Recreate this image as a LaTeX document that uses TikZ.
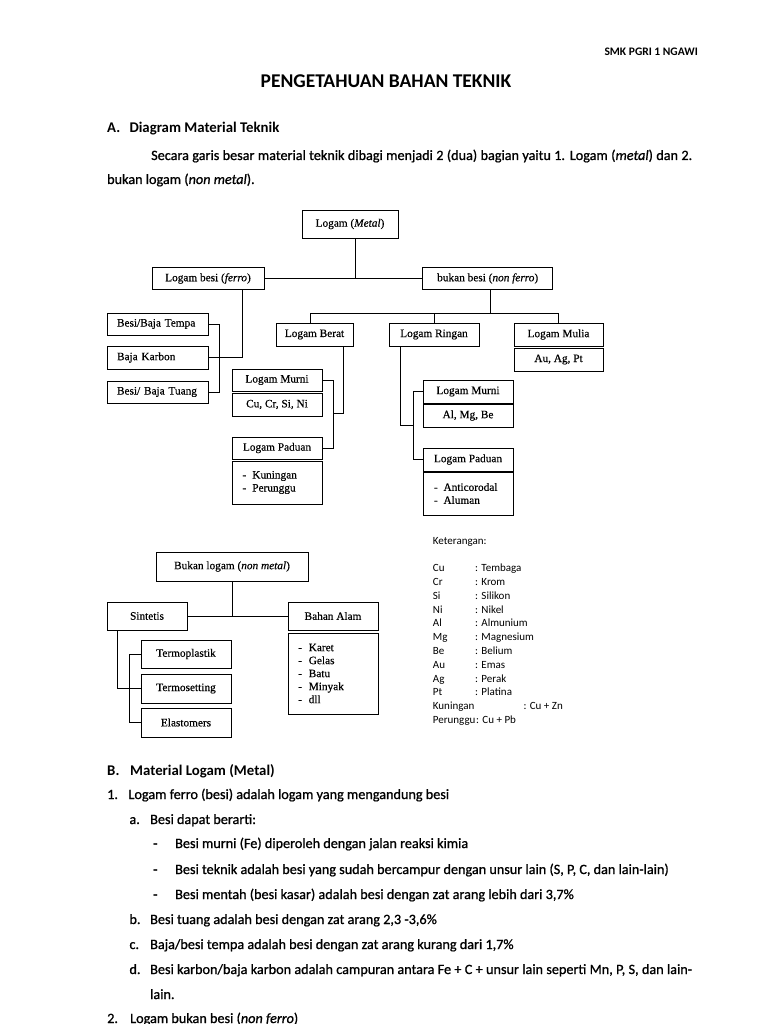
\documentclass[tikz,border=0pt]{standalone}
\usepackage{fontspec}
\setmainfont{Carlito}
\newfontfamily\bodyfont{Carlito}[FakeBold=0.9]
\newfontfamily\tnr{Liberation Serif}[FakeBold=0.4]
\begin{document}
\begin{tikzpicture}[x=1pt,y=-1pt,
  box/.style={draw, line width=0.8pt, inner sep=0pt, align=center,
    font=\tnr\fontsize{11.3}{13}\selectfont},
  lbox/.style={box, align=left, inner ysep=0pt},
  conn/.style={line width=0.8pt},
  body/.style={anchor=base west, inner sep=0pt, font=\bodyfont\fontsize{14.2}{17}\selectfont},
  headtxt/.style={anchor=base west, inner sep=0pt, font=\bfseries\fontsize{14.8}{17}\selectfont},
  legend/.style={anchor=base west, inner sep=0pt, font=\fontsize{11}{13.8}\selectfont}
]
\fill[white] (0,0) rectangle (768,1024);
\useasboundingbox (0,0) rectangle (768,1024);

% ---------- header and text ----------
\node[anchor=base east, inner sep=0pt, font=\bfseries\fontsize{11.5}{13}\selectfont] (hdr) at (698,56) {SMK PGRI 1 NGAWI};
\node[anchor=base, inner sep=0pt, font=\bfseries\fontsize{19.5}{21}\selectfont] (title) at (386,88) {PENGETAHUAN BAHAN TEKNIK};
\node[headtxt] (hA) at (107,133) {A.};
\node[headtxt] (hAt) at (129.3,133) {Diagram Material Teknik};
\node[body] (p1) at (151,160) {\makebox[541pt][s]{Secara garis besar material teknik dibagi menjadi 2 (dua) bagian yaitu 1. Logam (\textit{metal}) dan 2.}};
\node[body] (p2) at (107,184) {bukan logam (\textit{non metal}).};

% ---------- metal diagram ----------
\node[box, minimum width=96, minimum height=28] (metal) at (350,224) {Logam (\textit{Metal})};
\node[box, minimum width=112, minimum height=22] (ferro) at (208,278.5) {Logam besi (\textit{ferro})};
\node[box, minimum width=130, minimum height=22] (nonferro) at (487.7,278.5) {bukan besi (\textit{non ferro})};

\node[lbox, text width=81, inner xsep=10, minimum height=22] (tempa) at (157.5,324) {Besi/Baja Tempa};
\node[lbox, text width=81, inner xsep=10, minimum height=23] (karbon) at (157.5,357.5) {Baja Karbon};
\node[lbox, text width=81, inner xsep=10, minimum height=22] (tuang) at (157.5,392) {Besi/ Baja Tuang};

\node[box, minimum width=77, minimum height=23] (berat) at (314.5,334.5) {Logam Berat};
\node[box, minimum width=90, minimum height=23] (ringan) at (434,334.5) {Logam Ringan};
\node[box, minimum width=89, minimum height=23] (mulia) at (558.5,334.5) {Logam Mulia};
\node[box, minimum width=89, minimum height=23] (auagpt) at (558.5,359.5) {Au, Ag, Pt};

\node[box, minimum width=90, minimum height=22] (murni1) at (277,380) {Logam Murni};
\node[box, minimum width=90, minimum height=23] (cucr) at (277,404.5) {Cu, Cr, Si, Ni};
\node[box, minimum width=90, minimum height=22] (paduan1) at (277,448) {Logam Paduan};
\node[lbox, text width=69, inner xsep=10.5, minimum height=43] (list1) at (277,482.5)
  {\makebox[9.8pt][l]{-}Kuningan\\\makebox[9.8pt][l]{-}Perunggu\\[3pt]};

\node[box, minimum width=90, minimum height=23] (murni2) at (468,391.5) {Logam Murni};
\node[box, minimum width=90, minimum height=23] (almgbe) at (468,415.5) {Al, Mg, Be};
\node[box, minimum width=90, minimum height=23] (paduan2) at (468,459.5) {Logam Paduan};
\node[lbox, text width=68, inner xsep=11, minimum height=43] (list2) at (468,493.5)
  {\makebox[9.5pt][l]{-}Anticorodal\\\makebox[9.5pt][l]{-}Aluman\\[3pt]};

% connectors (metal)
\coordinate (j1) at (355,278.5);
\draw[conn] (metal.south -| j1) -- (j1);
\draw[conn] (ferro.east) -- (nonferro.west);
\coordinate (j2) at (242,357.5);
\draw[conn] (ferro.south -| j2) |- (karbon.east);
\coordinate (j3) at (219,392);
\draw[conn] (tempa.east) -| (j3) -- (tuang.east);

\coordinate (j4) at (490.7,313.3);
\coordinate (b1) at (310,313.3);
\coordinate (b2) at (558.5,313.3);
\draw[conn] (nonferro.south -| j4) -- (j4);
\draw[conn] (b1) -- (b2);
\draw[conn] (b1) -- (berat.north -| b1);
\draw[conn] (ringan.north |- b1) -- (ringan.north);
\draw[conn] (b2) -- (mulia.north);

\coordinate (k1) at (343,413);
\coordinate (k2) at (333,413);
\draw[conn] (berat.south -| k1) -- (k1) -- (k2);
\draw[conn] (murni1.east) -| (paduan1.east -| k2) -- (paduan1.east);

\coordinate (r1) at (400,425.7);
\coordinate (r2) at (413,425.7);
\draw[conn] (ringan.south -| r1) -- (r1) -- (r2);
\draw[conn] (murni2.west) -| (paduan2.west -| r2) -- (paduan2.west);

% ---------- non metal diagram ----------
\node[box, minimum width=152, minimum height=29] (bukanlogam) at (232,566.5) {Bukan logam (\textit{non metal})};
\node[box, minimum width=80, minimum height=28] (sintetis) at (147,616) {Sintetis};
\node[box, minimum width=90, minimum height=28] (alam) at (333,616) {Bahan Alam};
\node[lbox, text width=69.5, inner xsep=10.3, minimum height=81] (alamlist) at (333,673.5)
  {\makebox[10.5pt][l]{-}Karet\\\makebox[10.5pt][l]{-}Gelas\\\makebox[10.5pt][l]{-}Batu\\\makebox[10.5pt][l]{-}Minyak\\\makebox[10.5pt][l]{-}dll\\[4pt]};
\node[box, minimum width=90, minimum height=28] (termoplastik) at (186,654) {Termoplastik};
\node[box, minimum width=90, minimum height=29] (termosetting) at (186,688.5) {Termosetting};
\node[box, minimum width=90, minimum height=29] (elastomers) at (186,722.5) {Elastomers};

\coordinate (n1) at (232.7,616);
\draw[conn] (bukanlogam.south -| n1) -- (n1);
\draw[conn] (sintetis.east) -- (alam.west);
\coordinate (s1) at (117.7,688);
\draw[conn] (sintetis.south -| s1) |- (termosetting.west);
\coordinate (s2) at (129.3,722.5);
\draw[conn] (termoplastik.west) -| (s2) -- (elastomers.west);

% ---------- legend ----------
\node[legend] (ket) at (432.7,544) {\begin{tabular}[t]{@{}l@{}}
Keterangan:\\
\\
\makebox[42.3pt][l]{Cu}: Tembaga\\
\makebox[42.3pt][l]{Cr}: Krom\\
\makebox[42.3pt][l]{Si}: Silikon\\
\makebox[42.3pt][l]{Ni}: Nikel\\
\makebox[42.3pt][l]{Al}: Almunium\\
\makebox[42.3pt][l]{Mg}: Magnesium\\
\makebox[42.3pt][l]{Be}: Belium\\
\makebox[42.3pt][l]{Au}: Emas\\
\makebox[42.3pt][l]{Ag}: Perak\\
\makebox[42.3pt][l]{Pt}: Platina\\
\makebox[90.6pt][l]{Kuningan}: Cu + Zn\\
\makebox[43.3pt][l]{Perunggu}: Cu + Pb
\end{tabular}};

% ---------- section B ----------
\node[headtxt] (hB) at (107,775) {B.};
\node[headtxt] (hBt) at (130,775) {Material Logam (Metal)};
\node[body] (n1l) at (107,799) {1.};
\node[body] (n1t) at (128.3,799) {Logam ferro (besi) adalah logam yang mengandung besi};
\node[body] (nal) at (129.3,824) {a.};
\node[body] (nat) at (150,824) {Besi dapat berarti:};
\node[body] (d1l) at (153,848) {-};
\node[body] (d1t) at (175,848) {Besi murni (Fe) diperoleh dengan jalan reaksi kimia};
\node[body] (d2l) at (153,874) {-};
\node[body] (d2t) at (175,874) {Besi teknik adalah besi yang sudah bercampur dengan unsur lain (S, P, C, dan lain-lain)};
\node[body] (d3l) at (153,899) {-};
\node[body] (d3t) at (175,899) {Besi mentah (besi kasar) adalah besi dengan zat arang lebih dari 3,7\%};
\node[body] (nbl) at (129.3,924) {b.};
\node[body] (nbt) at (150,924) {Besi tuang adalah besi dengan zat arang 2,3 -3,6\%};
\node[body] (ncl) at (129.3,949) {c.};
\node[body] (nct) at (150,949) {Baja/besi tempa adalah besi dengan zat arang kurang dari 1,7\%};
\node[body] (ndl) at (129.3,974) {d.};
\node[body] (ndt) at (150,974) {\makebox[542pt][s]{Besi karbon/baja karbon adalah campuran antara Fe + C + unsur lain seperti Mn, P, S, dan lain-}};
\node[body] (ndt2) at (150,999) {lain.};
\node[body] (n2l) at (107,1023) {2.};
\node[body] (n2t) at (130,1023) {Logam bukan besi (\textit{non ferro})};
\end{tikzpicture}
\end{document}
